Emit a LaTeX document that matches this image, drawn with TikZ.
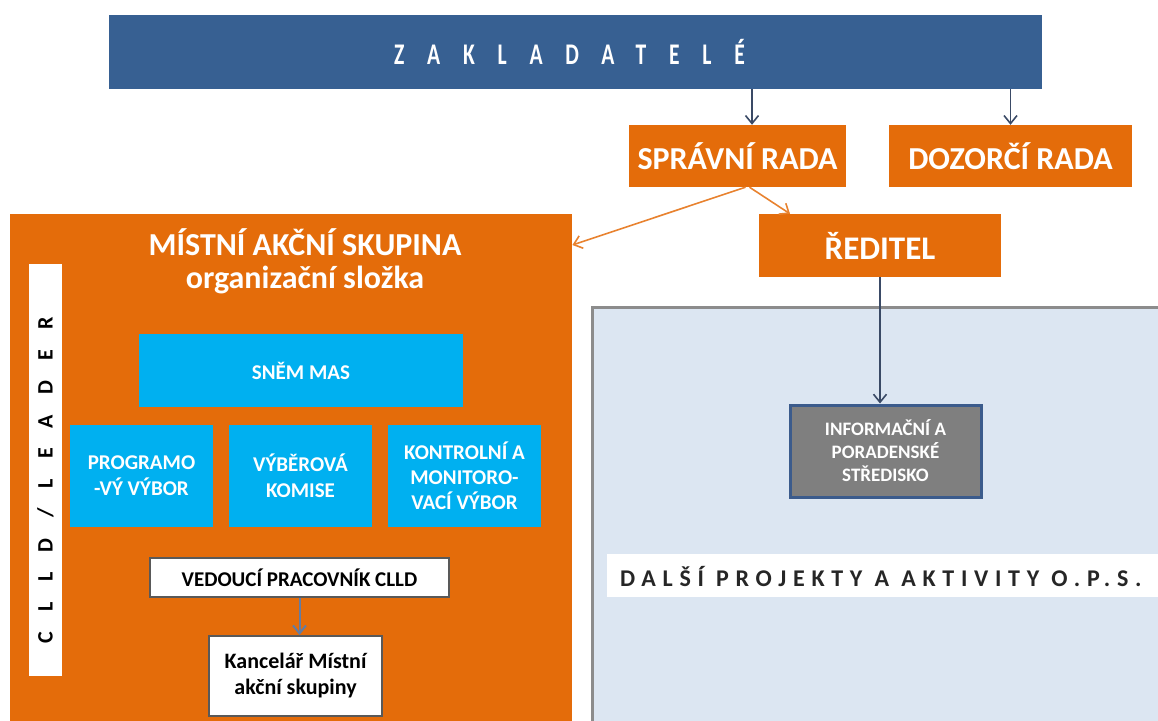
\documentclass[tikz,border=0pt]{standalone}
\usepackage{fontspec}
\setmainfont{Carlito}
\usetikzlibrary{arrows.meta}

\definecolor{zakblue}{HTML}{376092}
\definecolor{masorange}{HTML}{E46C0A}
\definecolor{masblue}{HTML}{00B0F0}
\definecolor{opsblue}{HTML}{DCE6F2}
\definecolor{opsgray}{HTML}{8C8C8C}
\definecolor{infogray}{HTML}{7F7F7F}
\definecolor{infoedge}{HTML}{3B5B8C}
\definecolor{arrowdark}{HTML}{3A4A66}

\newcommand{\fsz}[2]{\fontsize{#1}{#2}\selectfont}

\tikzset{
	box/.style = {rectangle, inner sep=0pt, align=center, font=\bfseries},
	orangebox/.style = {box, fill=masorange, text=white},
	cyanbox/.style = {box, fill=masblue, text=white},
	whitebox/.style = {box, fill=white, draw=black!65, line width=2pt, text=black},
	link/.style = {-{Straight Barb[length=8pt,width=13pt]}, line width=1.6pt, arrowdark},
	orangelink/.style = {link, draw=masorange!85!white},
}

\begin{document}
\begin{tikzpicture}[x=1pt, y=-1pt]
	%\draw[help lines] (0,0) grid[step=50] (1158,720);
	\useasboundingbox (0,0) rectangle (1158,720);
	\clip (0,0) rectangle (1158,720);
	
	% top
	\node[box, fill=zakblue, text=white, minimum width=933, minimum height=74,
		font=\bfseries\fsz{30}{34}\addfontfeatures{FakeStretch=0.72,LetterSpace=76}]
		(zak) at (575.5,52) {\hspace*{-12pt}ZAKLADATELÉ};
	
	\node[orangebox, minimum width=217, minimum height=62, font=\bfseries\fsz{32}{36}]
		(sprava) at (737.5,156) {SPRÁVNÍ RADA};
	\node[orangebox, minimum width=243, minimum height=62, font=\bfseries\fsz{32}{36}]
		(dozor) at (1010.5,156) {DOZORČÍ RADA};
	\node[orangebox, minimum width=242, minimum height=63, font=\bfseries\fsz{33}{36}]
		(reditel) at (880,245.5) {ŘEDITEL};
	
	% o.p.s. panel
	\node[rectangle, fill=opsblue, draw=opsgray, line width=3pt,
		minimum width=600, minimum height=440, anchor=north west]
		(ops) at (591,306) {};
	\node[box, fill=infogray, draw=infoedge, line width=3pt, text=white,
		minimum width=191, minimum height=92, font=\bfseries\fsz{19}{23}]
		(info) at (885.5,451) {INFORMAČNÍ A\\PORADENSKÉ\\STŘEDISKO};
	\node[box, fill=white, minimum width=560, minimum height=43, anchor=west]
		(dalsi) at (607,575.5) {};
	\node[box, text=black!85, anchor=west,
		font=\bfseries\fsz{24}{28}\addfontfeatures{LetterSpace=28}]
		(dalsitext) at (620,576) {DALŠÍ PROJEKTY A AKTIVITY O.P.S.};
	
	% MAS
	\node[rectangle, fill=masorange, minimum width=562, minimum height=510,
		anchor=north west] (mas) at (10,214) {};
	\node[box, text=white, font=\bfseries\fsz{32}{36}] (mastitle) at (305,242)
		{MÍSTNÍ AKČNÍ SKUPINA};
	\node[box, text=white, font=\bfseries\fsz{32}{36}] (massub) at (305,280)
		{organizační složka};
	\node[box, fill=white, minimum width=33, minimum height=412] (clld) at (45.5,470) {};
	\node[box, text=black, rotate=90, font=\bfseries\fsz{22}{26}\addfontfeatures{LetterSpace=92}]
		(clldtext) at ([yshift=-20]clld.center) {\hspace*{20pt}CLLD/LEADER};
	
	\node[cyanbox, minimum width=324, minimum height=73, font=\bfseries\fsz{21}{24}]
		(snem) at (301,370.5) {SNĚM MAS};
	\node[cyanbox, minimum width=143, minimum height=102, font=\bfseries\fsz{21}{26}]
		(prog) at (141.5,476) {PROGRAMO\\-VÝ VÝBOR};
	\node[cyanbox, minimum width=143, minimum height=102, font=\bfseries\fsz{21}{26}]
		(vyber) at (300.5,476) {VÝBĚROVÁ\\KOMISE};
	\node[cyanbox, minimum width=153, minimum height=102, font=\bfseries\fsz{21}{25}]
		(kontrola) at (464.5,476) {KONTROLNÍ A\\MONITORO-\\VACÍ VÝBOR};
	
	\node[whitebox, minimum width=299, minimum height=39, font=\bfseries\fsz{21}{24}]
		(vedouci) at (299.5,577.5) {VEDOUCÍ PRACOVNÍK CLLD};
	\node[whitebox, minimum width=173, minimum height=80, font=\bfseries\fsz{22}{26}]
		(kancelar) at (295.5,676) {Kancelář Místní\\akční skupiny};
	
	% arrows
	\draw[link] ([xshift=14.5]sprava.north |- zak.south) -- ([xshift=14.5]sprava.north);
	\draw[link] (dozor.north |- zak.south) -- (dozor.north);
	\draw[orangelink] ([xshift=8]sprava.south) -- ([yshift=-31]mas.north east);
	\draw[orangelink] ([xshift=12]sprava.south) -- ([xshift=-90]reditel.north);
	\draw[link] (reditel.south) -- (info.north -| reditel.south);
	\draw[link, draw=infoedge!80!white, line width=2pt] (vedouci.south) -- (kancelar.north -| vedouci.south);
\end{tikzpicture}
\end{document}
